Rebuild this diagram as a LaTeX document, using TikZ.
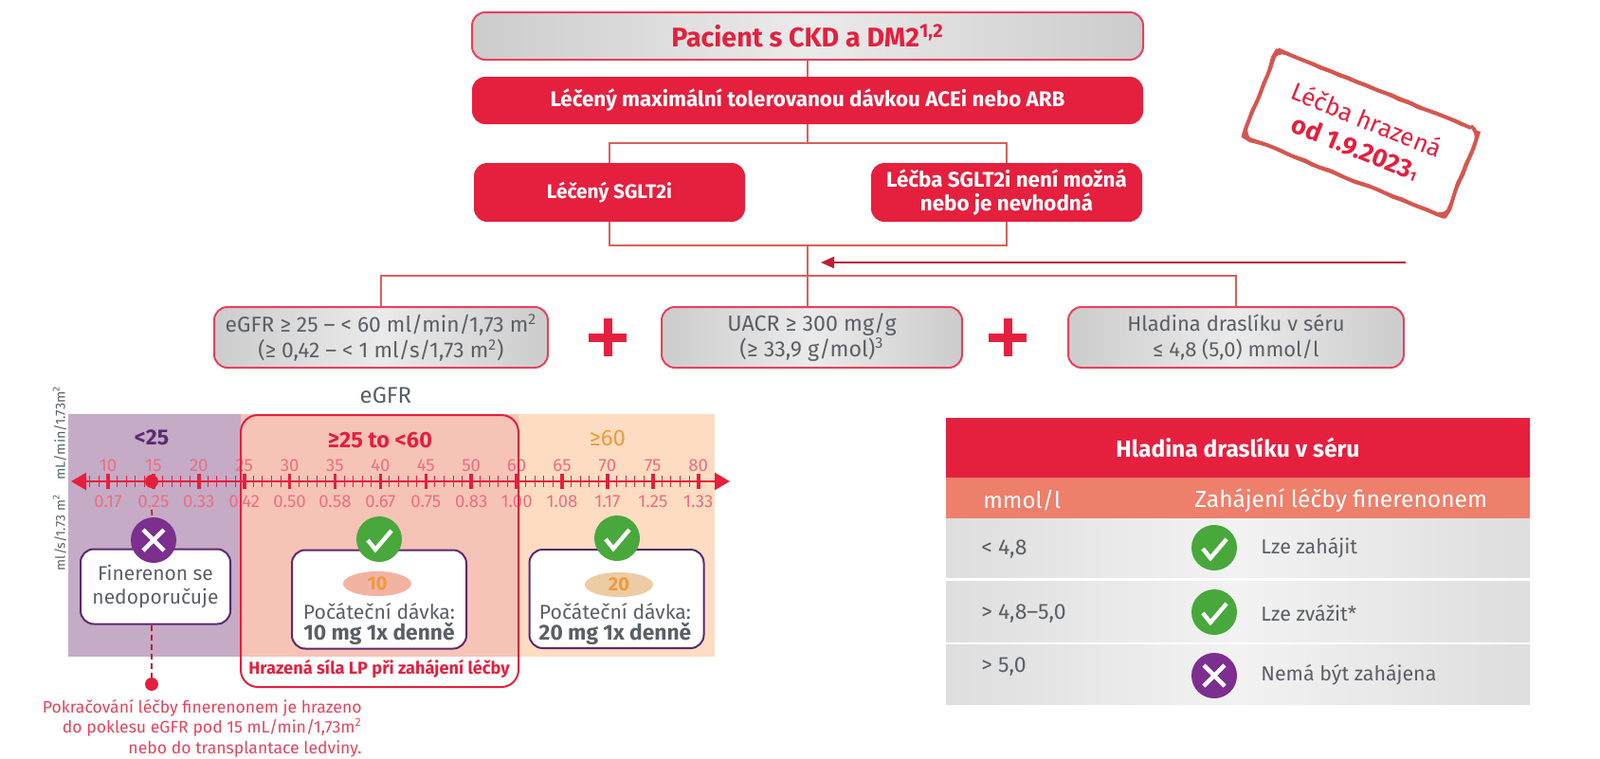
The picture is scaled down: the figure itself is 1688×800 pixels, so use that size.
\documentclass[tikz,border=0pt]{standalone}
\usepackage{fontspec}
\setmainfont{Fira Sans}
\usetikzlibrary{arrows.meta,positioning,calc,shapes.geometric,decorations.pathmorphing}
\definecolor{bayred}{HTML}{E4203E}
\definecolor{linered}{HTML}{D9605A}
\definecolor{stampred}{HTML}{D4574F}
\definecolor{txtgray}{HTML}{5A5F66}
\definecolor{plum}{HTML}{5B2A6E}
\definecolor{crosspur}{HTML}{7C2F8F}
\definecolor{okgreen}{HTML}{48A83C}
\definecolor{amber}{HTML}{F09A3A}
\definecolor{panelpur}{HTML}{C5ABC6}
\definecolor{panelred}{HTML}{F6C3B7}
\definecolor{panelora}{HTML}{FDDCC2}
\definecolor{subhead}{HTML}{EE7F6B}
\definecolor{pillred}{HTML}{F2B3A3}
\definecolor{pillora}{HTML}{EDCBA3}
\newcommand{\okmark}[1]{\draw[markline] (#1)++(-12,1)--++(8,10)--++(17,-20);}
\newcommand{\nomark}[1]{\draw[markline] (#1)++(-11,-11)--++(22,22);\draw[markline] (#1)++(11,-11)--++(-22,22);}

\begin{document}
\begin{tikzpicture}[x=.5pt,y=-.5pt,font=\fontsize{9}{11}\selectfont,
graybox/.style={draw=bayred!85,line width=1pt,rounded corners=7pt,left color=black!20,right color=black!20,middle color=black!8,text=txtgray,align=center,inner sep=0pt},
redbox/.style={fill=bayred,rounded corners=7pt,text=white,align=center,inner sep=0pt},
conn/.style={line width=1pt,draw=linered},
whitebox/.style={draw=plum,line width=1pt,fill=white,rounded corners=7pt,minimum width=92pt,minimum height=52pt,inner sep=0pt},
pill/.style={ellipse,fill=#1,minimum width=36pt,minimum height=13pt,inner sep=0pt},
okdot/.style={circle,fill=okgreen,minimum size=24pt,inner sep=0pt},
nodot/.style={circle,fill=crosspur,minimum size=24pt,inner sep=0pt},
markline/.style={white,line width=2.2pt},
dashline/.style={densely dashed,line width=.8pt,draw=bayred!80!black},
rowbox/.style={left color=black!13,right color=black!13,middle color=black!5,minimum width=308pt,minimum height=31pt,inner sep=0pt},
rowtxt/.style={text=txtgray,font=\fontsize{10.7}{13}\selectfont,anchor=west,inner sep=0pt},
up/.style={text=bayred!65,font=\fontsize{9.3}{11}\selectfont,inner sep=0pt},
plus/.style={line width=4.5pt,bayred}]
\useasboundingbox (0,0) rectangle (1688,800);

\node[graybox,minimum width=354pt,minimum height=25pt,text=bayred,font=\fontsize{14.3}{16}\selectfont\bfseries] (patient) at(852,38){Pacient s CKD a DM2\textsuperscript{1,2}};
\node[redbox,minimum width=354pt,minimum height=25pt,font=\fontsize{11.2}{13}\selectfont\bfseries] (acei) at(852,106){Léčený maximální tolerovanou dávkou ACEi nebo ARB};
\node[redbox,minimum width=143pt,minimum height=31pt,font=\fontsize{10.4}{12}\selectfont\bfseries] (sglt) at(643,203){Léčený SGLT2i};
\node[redbox,minimum width=143pt,minimum height=31pt,font=\fontsize{11.2}{12.5}\selectfont\bfseries] (nosglt) at(1062,203){Léčba SGLT2i není možná\\nebo je nevhodná};
\coordinate (split) at(852,151);
\coordinate (merge) at(852,259);
\coordinate (fork) at(852,291);
\coordinate (feedstart) at(1483,277);
\coordinate (feedend) at(866,277);
\node[graybox,minimum width=176pt,minimum height=32pt,font=\fontsize{11.4}{13.5}\selectfont] (egfrbox) at(402,356){eGFR ≥ 25 – < 60 ml/min/1,73 m\textsuperscript{2}\\(≥ 0,42 – < 1 ml/s/1,73 m\textsuperscript{2})};
\node[graybox,minimum width=158.5pt,minimum height=32pt,font=\fontsize{11.6}{13.5}\selectfont] (uacrbox) at(856.5,356){UACR ≥ 300 mg/g\\(≥ 33,9 g/mol)\textsuperscript{3}};
\node[graybox,minimum width=177pt,minimum height=32pt,font=\fontsize{11}{13.5}\selectfont] (kbox) at(1304,356){Hladina draslíku v séru\\≤ 4,8 (5,0) mmol/l};
\draw[conn](patient)--(acei);
\draw[conn](acei.south)--(split);
\draw[conn](sglt.north)|-(split)-|(nosglt.north);
\draw[conn](sglt.south)|-(merge)-|(nosglt.south);
\draw[conn](merge)--(fork);
\draw[conn](egfrbox.north)|-(fork)-|(kbox.north);
\draw[conn](fork)--(fork|-uacrbox.north);
\draw[-{Triangle[length=7pt,width=6pt]},line width=.9pt,draw=linered,color=bayred!85!black](feedstart)--(feedend);
\node (plusa) at(641,356){};
\node (plusb) at(1063,356){};
\draw[plus]($(plusa)+(-20,0)$)--($(plusa)+(20,0)$);\draw[plus]($(plusa)+(0,-20)$)--($(plusa)+(0,20)$);
\draw[plus]($(plusb)+(-20,0)$)--($(plusb)+(20,0)$);\draw[plus]($(plusb)+(0,-20)$)--($(plusb)+(0,20)$);

% razitko
\node[draw=stampred,line width=2pt,rounded corners=5pt,rotate=-22,minimum width=115pt,minimum height=49pt,align=center,inner sep=0pt,decorate,decoration={random steps,segment length=5pt,amplitude=.4pt},text=bayred,font=\fontsize{13}{16}\selectfont] (stamp) at(1436,141){Léčba hrazená\\{\fontsize{13.5}{16}\selectfont\bfseries od 1.9.2023{\fontsize{7}{8}\selectfont 1}}};

% eGFR panely
\fill[panelpur](72,437)rectangle(254,693);
\fill[panelred](254,437)rectangle(547,693);
\fill[panelora](547,437)rectangle(754,693);
\node[text=txtgray,font=\fontsize{12}{14}\selectfont] (egfrtitle) at(407,417){eGFR};
\node[rotate=90,text=txtgray,font=\fontsize{7.2}{9}\selectfont] (unita) at(63,457){mL/min/1.73m\textsuperscript{2}};
\node[rotate=90,text=txtgray,font=\fontsize{7}{9}\selectfont] (unitb) at(63,562){ml/s/1.73 m\textsuperscript{2}};
\node[text=plum,font=\fontsize{11.5}{14}\selectfont\bfseries] (lowlab) at(160,462){<25};
\node[text=bayred,font=\fontsize{11.8}{14}\selectfont\bfseries] (midlab) at(401,465){≥25 to <60};
\node[text=amber,font=\fontsize{12}{14}\selectfont] (hilab) at(641,462){≥60};

% osa
\coordinate (axleft) at(75,508);
\coordinate (axright) at(770,508);
\draw[{Triangle[length=8pt,width=9pt]}-{Triangle[length=8pt,width=9pt]},line width=1.2pt,draw=bayred,color=bayred](axleft)--(axright);
\foreach \i in {-3,...,65}
  \draw[line width=.5pt,draw=bayred](114+9.58*\i,502)--(114+9.58*\i,514);
\foreach \i/\top/\bot in {0/10/0.17,1/15/0.25,2/20/0.33,3/25/0.42,4/30/0.50,5/35/0.58,6/40/0.67,7/45/0.75,8/50/0.83,9/60/1.00,10/65/1.08,11/70/1.17,12/75/1.25,13/80/1.33}{
  \draw[line width=1.8pt,draw=bayred](114+47.9*\i,500)--(114+47.9*\i,516);
  \node[up] (top\i) at(114+47.9*\i,491){\top};
  \node[up] (bot\i) at(114+47.9*\i,529){\bot};
}
\node[circle,fill=bayred,minimum size=7pt,inner sep=0pt] (dotfifteen) at(160,508){};
\node[draw=bayred,line width=1pt,rounded corners=9pt,minimum width=146.5pt,minimum height=143.5pt,inner sep=0pt] (paid) at(400.5,581.5){};

% krabicky
\node[whitebox,minimum width=79pt,minimum height=39.5pt,align=center,text=txtgray,font=\fontsize{10.5}{12.5}\selectfont] (nobox) at(164,619){Finerenon se\\nedoporučuje};
\node[whitebox] (tenbox) at(400,632.5){};
\node[whitebox] (twentybox) at(650.5,632){};
\coordinate (dashtop) at(160,538);
\node[nodot] (nogo) at(162,570){};
\node[okdot] (oka) at(400,569){};
\node[okdot] (okb) at(651,568){};
\draw[dashline](dashtop)--(nogo);
\nomark{nogo}\okmark{oka}\okmark{okb}
\node[pill=pillred,text=amber,font=\fontsize{10}{12}\selectfont\bfseries] (tenpill) at(398,616){10};
\node[pill=pillora,text=amber,font=\fontsize{10}{12}\selectfont\bfseries] (twentypill) at(653,617){20};
\node[text=txtgray,font=\fontsize{10.6}{12}\selectfont] (tena) at(400,645){Počáteční dávka:};
\node[text=txtgray,font=\fontsize{11.4}{13}\selectfont\bfseries] (tenb) at(400,669){10 mg 1x denně};
\node[text=txtgray,font=\fontsize{10.6}{12}\selectfont] (twentya) at(649,645){Počáteční dávka:};
\node[text=txtgray,font=\fontsize{11.4}{13}\selectfont\bfseries] (twentyb) at(649,669){20 mg 1x denně};
\node[text=bayred,font=\fontsize{9.1}{11}\selectfont\bfseries] (paidlab) at(400,706){Hrazená síla LP při zahájení léčby};
\node[circle,fill=bayred,minimum size=7pt,inner sep=0pt] (paydot) at(160,722){};
\draw[dashline](paydot|-nobox.south)--(paydot);
\node[text=bayred!85,font=\fontsize{8.8}{10.7}\selectfont,align=right,anchor=north east,inner sep=0pt] (paynote) at(382,738){Pokračování léčby finerenonem je hrazeno\\do poklesu eGFR pod 15 mL/min/1,73m\textsuperscript{2}\\nebo do transplantace ledviny.};

% tabulka
\node[fill=bayred,minimum width=308pt,minimum height=31.5pt,inner sep=0pt,text=white,font=\fontsize{12.3}{14}\selectfont\bfseries] (thead) at(1306,472){Hladina draslíku v séru};
\node[fill=subhead,minimum width=308pt,minimum height=21.5pt,inner sep=0pt] (tsub) at(1306,525){};
\node[rowbox] (rowa) at(1306,578.5){};
\node[rowbox,minimum height=32pt] (rowb) at(1306,645){};
\node[rowbox,minimum height=31.5pt] (rowc) at(1306,711.5){};
\node[text=white,font=\fontsize{12}{14}\selectfont,anchor=west,inner sep=0pt] (tcola) at(1037,528){mmol/l};
\node[text=white,font=\fontsize{12.3}{14}\selectfont,anchor=west,inner sep=0pt] (tcolb) at(1260,528){Zahájení léčby finerenonem};
\node[rowtxt,font=\fontsize{11.5}{13}\selectfont] (vala) at(1035,580){< 4,8};
\node[rowtxt,font=\fontsize{11.5}{13}\selectfont] (valb) at(1035,648){> 4,8–5,0};
\node[rowtxt,font=\fontsize{11.5}{13}\selectfont] (valc) at(1035,704){> 5,0};
\node[okdot] (rowoka) at(1281,578){};
\node[okdot] (rowokb) at(1281,646){};
\node[nodot] (rowno) at(1281,713){};
\okmark{rowoka}\okmark{rowokb}\nomark{rowno}
\node[rowtxt] (acta) at(1330,578){Lze zahájit};
\node[rowtxt] (actb) at(1330,647){Lze zvážit*};
\node[rowtxt] (actc) at(1330,712){Nemá být zahájena};
\end{tikzpicture}
\end{document}
